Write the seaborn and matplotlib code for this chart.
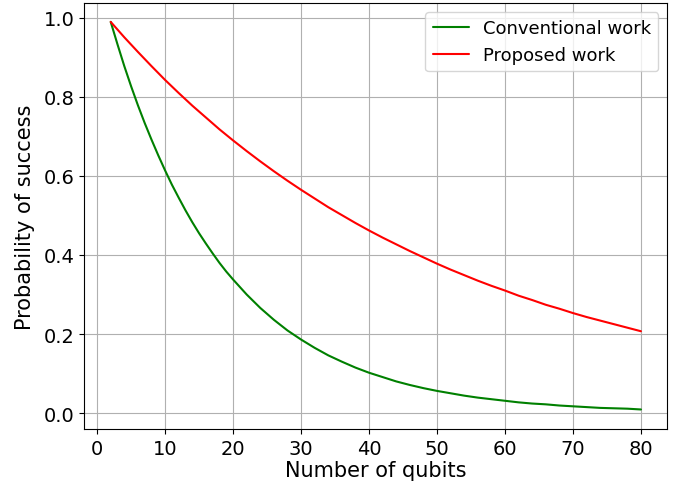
import matplotlib
matplotlib.use("Agg")
import matplotlib.pyplot as plt
import seaborn as sns
import pandas as pd

conv_qubits = list(range(2, 21)) + list(range(22, 81, 2))
conventional = [0.990, 0.933, 0.878, 0.827, 0.779, 0.734, 0.692, 0.652, 0.614, 0.578,
                0.545, 0.513, 0.483, 0.455, 0.429, 0.404, 0.380, 0.358, 0.338,
                0.300, 0.266, 0.236, 0.209, 0.186, 0.165, 0.146, 0.130, 0.115, 0.102,
                0.091, 0.080, 0.071, 0.063, 0.056, 0.050, 0.044, 0.039, 0.035, 0.031,
                0.027, 0.024, 0.022, 0.019, 0.017, 0.015, 0.013, 0.012, 0.011, 0.009]
prop_qubits = list(range(2, 81, 2))
proposed = [0.990, 0.951, 0.914, 0.878, 0.843, 0.810, 0.778, 0.748, 0.718, 0.690,
            0.663, 0.637, 0.612, 0.588, 0.565, 0.543, 0.521, 0.501, 0.481, 0.462,
            0.444, 0.427, 0.410, 0.394, 0.378, 0.363, 0.349, 0.335, 0.322, 0.310,
            0.297, 0.286, 0.274, 0.264, 0.253, 0.243, 0.234, 0.225, 0.216, 0.207]
series_names = ["Conventional work", "Proposed work"]
colors = ["green", "red"]

df = pd.DataFrame({
    "Number of qubits": conv_qubits + prop_qubits,
    "Probability of success": conventional + proposed,
    "series": [series_names[0]] * len(conv_qubits) + [series_names[1]] * len(prop_qubits),
})

sns.set_style("ticks")
plt.rcParams["font.family"] = ["DejaVu Sans"]
for k in ["text.color", "axes.labelcolor", "xtick.color", "ytick.color", "axes.edgecolor"]:
    plt.rcParams[k] = "black"

fig = plt.figure(figsize=(6.79, 4.89), dpi=100)
ax = fig.add_axes([0.124, 0.121, 0.859, 0.871])
sns.lineplot(data=df, x="Number of qubits", y="Probability of success", hue="series",
             palette=dict(zip(series_names, colors)), ax=ax, linewidth=1.5)
ax.grid(True, color="#b0b0b0", linewidth=0.8)
for s in ax.spines.values():
    s.set_color("black")
    s.set_linewidth(0.8)
ax.tick_params(labelsize=14, direction="out", length=3.5, width=0.8, color="black")
ax.set_xlabel("Number of qubits", fontsize=15, labelpad=2)
ax.set_ylabel("Probability of success", fontsize=15, labelpad=6)
ax.set_xticks(range(0, 81, 10))
ax.set_yticks([0.0, 0.2, 0.4, 0.6, 0.8, 1.0])
ax.set_xlim(-1.9, 83.9)
ax.set_ylim(-0.040, 1.038)
leg = ax.legend(title=None, fontsize=13, loc="upper right", frameon=True)
leg.get_frame().set_edgecolor("#cccccc")
fig.savefig("out.png", dpi=100)
